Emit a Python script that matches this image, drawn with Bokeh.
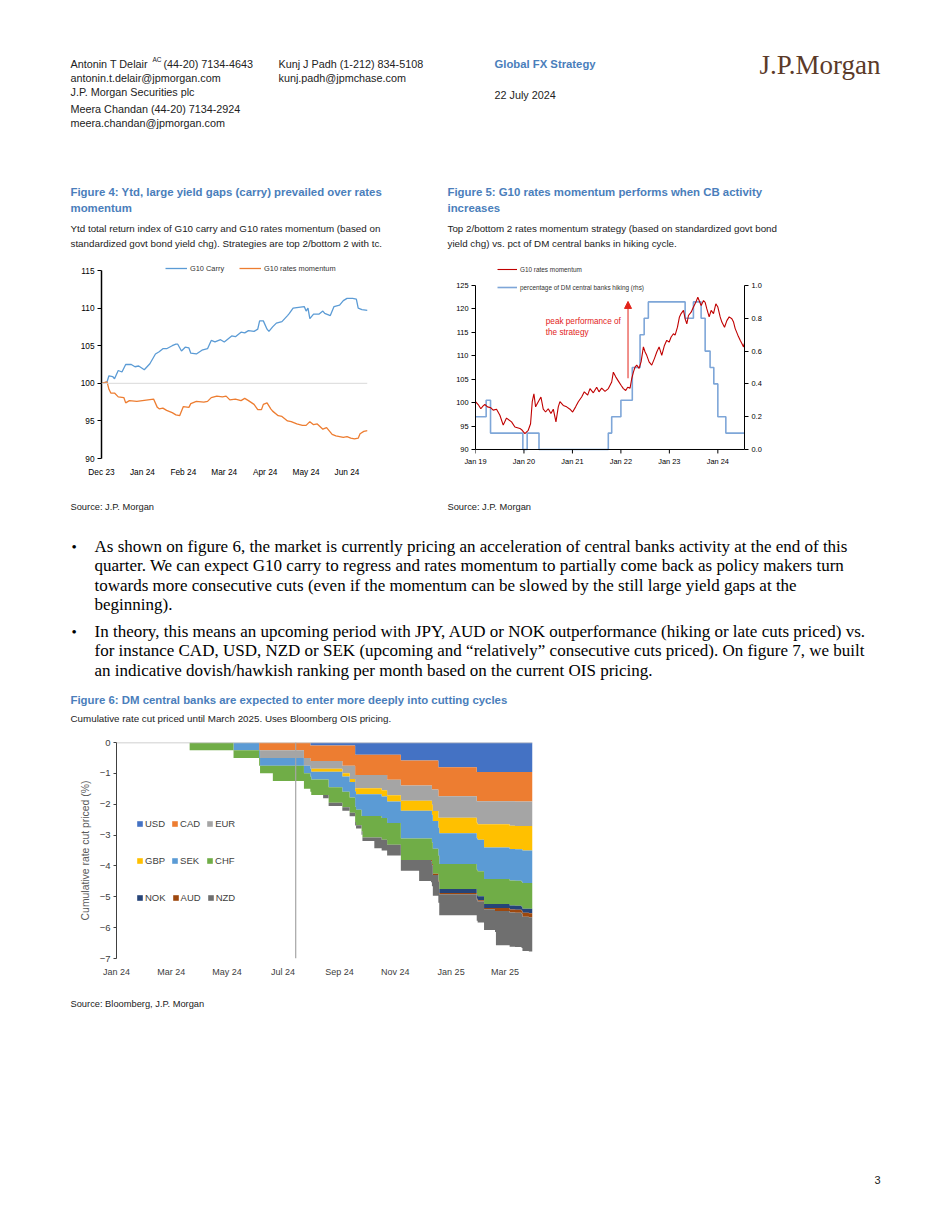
import numpy as np
import pandas as pd
from bokeh.plotting import figure
from bokeh.models import (Label, Range1d, Span, Legend, LegendItem, FixedTicker, Arrow, NormalHead,
                          LinearAxis, NumeralTickFormatter, DatetimeTickFormatter, Spacer)
from bokeh.layouts import column, row
from bokeh.embed import file_html
from bokeh.resources import INLINE

SANS = "Liberation Sans"
SERIF = "Liberation Serif"
TITLE_BLUE = "#4A7EBB"
TXT = "#222222"

# ---------------- Figure 4 data (trading-day index since 29 Dec 2023) ----------------
f4_xticks = [0, 22, 44, 66, 88, 110, 132]
f4_xlabels = ["Dec 23", "Jan 24", "Feb 24", "Mar 24", "Apr 24", "May 24", "Jun 24"]
f4_yticks = [90, 95, 100, 105, 110, 115]
carry_idx = [0, 3, 4, 6, 7, 9, 11, 13, 16, 18, 20, 23, 26, 29, 31, 33, 35, 38, 40, 41, 43, 45, 47, 48, 51, 54,
             57, 59, 61, 64, 66, 68, 70, 72, 75, 77, 79, 82, 84, 85, 87, 89, 90, 92, 94, 97, 100, 101, 103,
             106, 109, 110, 111, 112, 114, 117, 119, 120, 123, 125, 128, 130, 132, 135, 137, 138, 140, 143]
carry_val = [100.0, 100.2, 101.0, 100.9, 100.6, 101.7, 101.5, 102.5, 102.5, 102.2, 102.3, 101.8, 102.6, 103.9,
             104.2, 104.6, 104.6, 105.0, 105.2, 105.2, 104.3, 104.8, 104.7, 104.0, 103.9, 104.4, 104.6, 105.7,
             105.5, 105.8, 105.5, 105.9, 106.3, 106.2, 106.8, 106.7, 107.0, 106.9, 107.2, 108.3, 108.3, 107.2,
             106.9, 107.5, 108.0, 108.2, 109.0, 109.3, 110.0, 110.1, 110.2, 109.6, 110.0, 108.6, 109.2, 109.2,
             109.6, 109.3, 109.0, 110.2, 110.4, 111.0, 111.3, 111.3, 111.2, 110.0, 109.8, 109.7]
mom_idx = [0, 3, 4, 5, 7, 9, 12, 13, 15, 19, 22, 25, 28, 30, 31, 33, 35, 38, 40, 42, 44, 47, 48, 51, 55, 57, 59,
           62, 65, 67, 69, 72, 75, 77, 79, 82, 84, 86, 87, 89, 91, 92, 95, 97, 100, 102, 105, 108, 110, 112,
           114, 116, 119, 121, 124, 126, 128, 130, 132, 134, 136, 138, 139, 141, 143]
mom_val = [100.0, 100.2, 99.2, 98.7, 98.7, 98.2, 98.1, 97.4, 97.7, 97.6, 97.7, 97.8, 97.9, 96.8, 96.6, 96.7,
           96.4, 96.1, 95.8, 95.7, 96.9, 96.8, 97.3, 97.6, 97.5, 97.6, 98.1, 98.3, 98.2, 98.3, 97.8, 97.9,
           97.7, 98.0, 97.7, 97.2, 96.5, 96.5, 97.2, 97.4, 96.6, 96.3, 95.7, 95.6, 95.0, 94.9, 94.6, 94.4,
           94.4, 94.9, 94.5, 94.6, 93.9, 94.1, 93.2, 93.0, 92.9, 92.8, 92.9, 92.7, 92.6, 92.7, 93.3, 93.6, 93.7]

# ---------------- Figure 5 data (decimal years) ----------------
f5_xticks = [2019, 2020, 2021, 2022, 2023, 2024]
f5_xlabels = ["Jan 19", "Jan 20", "Jan 21", "Jan 22", "Jan 23", "Jan 24"]
f5_yticks = [90, 95, 100, 105, 110, 115, 120, 125]
f5_rticks = [0.0, 0.2, 0.4, 0.6, 0.8, 1.0]
rm_t = [2019.000, 2019.055, 2019.110, 2019.158, 2019.193, 2019.248, 2019.317, 2019.365, 2019.434, 2019.503,
        2019.572, 2019.640, 2019.744, 2019.813, 2019.916, 2019.964, 2020.019, 2020.088, 2020.136, 2020.171,
        2020.205, 2020.240, 2020.295, 2020.350, 2020.398, 2020.446, 2020.501, 2020.556, 2020.605, 2020.660,
        2020.708, 2020.742, 2020.811, 2020.880, 2020.949, 2021.004, 2021.066, 2021.121, 2021.190, 2021.245,
        2021.314, 2021.362, 2021.431, 2021.500, 2021.548, 2021.603, 2021.672, 2021.741, 2021.810, 2021.844,
        2021.893, 2021.948, 2022.003, 2022.051, 2022.099, 2022.140, 2022.189, 2022.223, 2022.258, 2022.292,
        2022.326, 2022.375, 2022.416, 2022.464, 2022.499, 2022.533, 2022.581, 2022.636, 2022.691, 2022.740,
        2022.788, 2022.843, 2022.898, 2022.946, 2022.994, 2023.036, 2023.084, 2023.118, 2023.167, 2023.208,
        2023.242, 2023.291, 2023.325, 2023.360, 2023.394, 2023.449, 2023.497, 2023.545, 2023.587, 2023.614,
        2023.656, 2023.704, 2023.738, 2023.773, 2023.821, 2023.862, 2023.910, 2023.959, 2024.000, 2024.048,
        2024.083, 2024.138, 2024.186, 2024.234, 2024.289, 2024.324, 2024.358, 2024.413, 2024.461, 2024.496,
        2024.530, 2024.544]
rm_v = [100.2, 99.6, 98.7, 99.3, 99.6, 99.1, 98.9, 98.4, 98.6, 97.3, 95.2, 96.7, 95.9, 94.8, 94.5, 94.1, 93.4,
        94.1, 95.5, 100.2, 101.9, 99.1, 100.2, 101.2, 98.6, 98.0, 98.7, 97.7, 98.6, 95.9, 99.1, 100.2, 99.4,
        99.1, 98.6, 98.0, 99.1, 100.2, 101.2, 102.3, 101.6, 103.0, 102.1, 103.3, 102.3, 103.1, 102.4, 103.0,
        104.4, 106.5, 105.5, 104.6, 103.7, 103.0, 102.6, 103.3, 103.1, 105.1, 106.5, 107.6, 108.0, 107.3,
        108.7, 111.9, 110.8, 110.1, 108.7, 108.0, 109.4, 110.8, 111.9, 110.1, 112.2, 113.3, 112.9, 114.0,
        114.7, 114.4, 116.1, 118.3, 119.0, 119.7, 117.9, 116.8, 118.6, 119.3, 120.4, 121.4, 122.5, 121.8,
        120.7, 121.8, 121.4, 120.0, 118.3, 119.7, 119.0, 121.1, 120.4, 118.3, 117.2, 116.1, 117.5, 118.3,
        117.9, 117.2, 115.8, 114.4, 113.3, 112.6, 111.9, 112.6]
hike_t = [2019.00, 2019.22, 2019.31, 2019.977, 2020.066, 2020.31, 2021.74, 2021.81, 2022.00, 2022.235,
          2022.395, 2022.48, 2022.566, 2023.325, 2023.496, 2023.655, 2023.738, 2023.84, 2023.917, 2024.00,
          2024.165, 2024.55]
hike_v = [0.2, 0.3, 0.1, 0.0, 0.1, 0.0, 0.1, 0.2, 0.3, 0.5, 0.7, 0.8, 0.9, 0.8, 0.9, 0.8, 0.6, 0.5, 0.4, 0.2,
          0.1, 0.1]

# ---------------- Figure 6 data (cumulative cuts priced, %) ----------------
f6_start, f6_end, f6_today = "2024-01-01", "2025-03-31", "2024-07-15"
f6_xticks = ["2024-01-01", "2024-03-01", "2024-05-01", "2024-07-01", "2024-09-01", "2024-11-01",
             "2025-01-01", "2025-03-01"]
f6_yticks = [-7, -6, -5, -4, -3, -2, -1, 0]
ccy_names = ["USD", "CAD", "EUR", "GBP", "SEK", "CHF", "NOK", "AUD", "NZD"]
ccy_colors = ["#4472C4", "#ED7D31", "#A5A5A5", "#FFC000", "#5B9BD5", "#70AD47", "#264478", "#9E480E", "#6F6F6F"]
usd_dates = ["2024-07-31", "2024-09-18", "2024-11-07", "2024-12-18", "2025-01-29"]
usd_cuts = [0.10, 0.40, 0.58, 0.80, 0.96]
cad_dates = ["2024-06-05", "2024-07-24", "2024-09-04", "2024-10-23", "2024-12-11", "2025-03-12"]
cad_cuts = [0.25, 0.50, 0.65, 0.81, 0.94, 0.95]
eur_dates = ["2024-06-06", "2024-09-12", "2024-10-17", "2024-12-12", "2025-01-30", "2025-03-06"]
eur_cuts = [0.25, 0.43, 0.50, 0.70, 0.75, 0.80]
gbp_dates = ["2024-08-01", "2024-09-19", "2024-11-07", "2024-12-19", "2025-02-06", "2025-03-20"]
gbp_cuts = [0.10, 0.20, 0.32, 0.50, 0.75, 0.79]
sek_dates = ["2024-05-08", "2024-08-20", "2024-09-25", "2024-11-07", "2024-12-19", "2025-01-29", "2025-03-19"]
sek_cuts = [0.25, 0.50, 0.70, 0.90, 1.00, 1.02, 1.05]
chf_dates = ["2024-03-21", "2024-06-20", "2024-09-26", "2024-12-12", "2025-03-20"]
chf_cuts = [0.25, 0.50, 0.70, 0.81, 0.84]
nok_dates = ["2024-12-19", "2025-03-27"]
nok_cuts = [0.13, 0.14]
aud_dates = ["2024-12-10", "2025-02-18", "2025-03-20"]
aud_cuts = [0.04, 0.10, 0.13]
nzd_dates = ["2024-08-14", "2024-10-09", "2024-11-27", "2025-02-19"]
nzd_cuts = [0.11, 0.35, 0.68, 1.11]


def ms(d):
    return pd.Timestamp(d).value / 1e6


# ---------------- helpers ----------------
def text_fig(w, h, top):
    p = figure(width=w, height=h, x_range=Range1d(0, w), y_range=Range1d(top + h, top),
               x_axis_type=None, y_axis_type=None, output_backend="svg", toolbar_location=None,
               min_border=0, outline_line_color=None)
    return p


def put(p, x, y, text, size=11, color=TXT, font=SANS, bold=False, align="left"):
    p.add_layout(Label(x=x, y=y, text=text, text_font=font, text_font_size=f"{size}px",
                       text_color=color, text_font_style="bold" if bold else "normal",
                       text_align=align, text_baseline="middle"))


def style_axis(ax, size="8.5px", font=SANS, color="#000000"):
    ax.major_label_text_font = font
    ax.major_label_text_font_size = size
    ax.major_label_text_color = color
    ax.minor_tick_line_color = None
    ax.major_tick_in = 0


# ---------------- header ----------------
HS = 10.8
hdr = text_fig(950, 260, 0)
put(hdr, 70, 63, "Antonin T Delair", HS)
put(hdr, 152, 59, "AC", 6.5)
put(hdr, 163, 63, "(44-20) 7134-4643", HS)
put(hdr, 70, 77, "antonin.t.delair@jpmorgan.com", HS)
put(hdr, 70, 91, "J.P. Morgan Securities plc", HS)
put(hdr, 70, 108, "Meera Chandan  (44-20) 7134-2924", HS)
put(hdr, 70, 122, "meera.chandan@jpmorgan.com", HS)
put(hdr, 278, 63, "Kunj J Padh  (1-212) 834-5108", HS)
put(hdr, 278, 77, "kunj.padh@jpmchase.com", HS)
put(hdr, 494, 63, "Global FX Strategy", 11.3, TITLE_BLUE, bold=True)
put(hdr, 494, 94, "22 July 2024", HS)
put(hdr, 880, 64, "J.P.Morgan", 27, "#5B3A29", font=SERIF, align="right")
TS = 11.4
SS = 9.8
put(hdr, 70, 191, "Figure 4: Ytd, large yield gaps (carry) prevailed over rates", TS, TITLE_BLUE, bold=True)
put(hdr, 70, 207, "momentum", TS, TITLE_BLUE, bold=True)
put(hdr, 70, 228, "Ytd total return index of G10 carry and G10 rates momentum (based on", SS)
put(hdr, 70, 243, "standardized govt bond yield chg). Strategies are top 2/bottom 2 with tc.", SS)
put(hdr, 447, 191, "Figure 5: G10 rates momentum performs when CB activity", TS, TITLE_BLUE, bold=True)
put(hdr, 447, 207, "increases", TS, TITLE_BLUE, bold=True)
put(hdr, 447, 228, "Top 2/bottom 2 rates momentum strategy (based on standardized govt bond", SS)
put(hdr, 447, 243, "yield chg) vs. pct of DM central banks in hiking cycle.", SS)

# ---------------- Figure 4 ----------------
# frame spans page y 260..458 (shared with figure 5); value 115 sits at 270, 90 at 458
f4 = figure(width=440, height=230, x_range=Range1d(0, 143), y_range=Range1d(90, 116.33),
            output_backend="svg", toolbar_location=None, min_border_left=101, min_border_right=73,
            min_border_top=0, min_border_bottom=32, outline_line_color=None)
f4.grid.visible = False
f4.add_layout(Span(location=100, dimension="width", line_color="#D9D9D9", line_width=1))
r_carry = f4.line(carry_idx, carry_val, line_color="#5B9BD5", line_width=1.3)
r_mom = f4.line(mom_idx, mom_val, line_color="#ED7D31", line_width=1.3)
ya = f4.yaxis[0]
style_axis(ya, size="8.3px")
ya.ticker = FixedTicker(ticks=f4_yticks)
ya.bounds = (90, 115)
ya.axis_line_color = "#000000"
ya.axis_line_width = 1.5
ya.major_tick_out = 4
ya.major_label_standoff = 3
xa = f4.xaxis[0]
style_axis(xa, size="8.3px")
xa.ticker = FixedTicker(ticks=f4_xticks)
xa.major_label_overrides = {t: l for t, l in zip(f4_xticks, f4_xlabels)}
xa.axis_line_color = None
xa.major_tick_line_color = None
xa.major_tick_out = 0
xa.major_label_standoff = 8
leg4 = Legend(items=[LegendItem(label="G10 Carry", renderers=[r_carry]),
                     LegendItem(label="G10 rates momentum", renderers=[r_mom])],
              orientation="horizontal", location=(64, 185), glyph_width=22, glyph_height=10,
              label_height=10, label_standoff=3, spacing=15, padding=0, margin=0,
              border_line_color=None, background_fill_alpha=0,
              label_text_font=SANS, label_text_font_size="7.4px", label_text_color="#333333")
f4.add_layout(leg4)

# ---------------- Figure 5 ----------------
# frame spans page y 260..458; value 125 sits at 285, 90 at 449
f5 = figure(width=510, height=230, x_range=Range1d(2019.0, 2024.55), y_range=Range1d(88.079, 130.335),
            output_backend="svg", toolbar_location=None, min_border_left=35, min_border_right=206,
            min_border_top=0, min_border_bottom=32, outline_line_color=None)
f5.grid.visible = False
f5.extra_y_ranges = {"rhs": Range1d(-0.0549, 1.1524)}
r_hike = f5.step(hike_t, hike_v, mode="after", y_range_name="rhs", line_color="#7EA6D8", line_width=1.6)
r_rm = f5.line(rm_t, rm_v, line_color="#C00000", line_width=1.1)
f5.add_layout(Span(location=90, dimension="width", line_color="#000000", line_width=1))
f5.segment(x0=f5_xticks, y0=[90] * len(f5_xticks), x1=f5_xticks, y1=[89.15] * len(f5_xticks),
           line_color="#000000", line_width=1)
ra = LinearAxis(y_range_name="rhs")
f5.add_layout(ra, "right")
for ax, b in ((f5.yaxis[0], (90, 125)), (ra, (0, 1))):
    style_axis(ax, size="7.4px")
    ax.bounds = b
    ax.axis_line_color = "#000000"
    ax.major_tick_out = 4
    ax.major_label_standoff = 3
f5.yaxis[0].ticker = FixedTicker(ticks=f5_yticks)
ra.ticker = FixedTicker(ticks=f5_rticks)
ra.formatter = NumeralTickFormatter(format="0.0")
xa5 = f5.xaxis[0]
style_axis(xa5, size="7.4px")
xa5.ticker = FixedTicker(ticks=f5_xticks)
xa5.major_label_overrides = {t: l for t, l in zip(f5_xticks, f5_xlabels)}
xa5.axis_line_color = None
xa5.major_tick_line_color = None
xa5.major_tick_out = 0
xa5.major_label_standoff = -2
RED = "#E2231A"
f5.add_layout(Arrow(end=NormalHead(size=7, fill_color=RED, line_color=RED),
                    x_start=2022.147, y_start=105.2, x_end=2022.147, y_end=121.6,
                    line_color=RED, line_width=1))
f5.add_layout(Label(x=2020.45, y=117.4, text="peak performance of", text_font=SANS,
                    text_font_size="8.2px", text_color=RED, text_baseline="middle"))
f5.add_layout(Label(x=2020.45, y=114.9, text="the strategy", text_font=SANS,
                    text_font_size="8.2px", text_color=RED, text_baseline="middle"))
leg5 = Legend(items=[LegendItem(label="G10 rates momentum", renderers=[r_rm]),
                     LegendItem(label="percentage of DM central banks hiking (rhs)", renderers=[r_hike])],
              orientation="vertical", location=(22, 166), glyph_width=20, glyph_height=10,
              label_height=10, label_standoff=3, spacing=8, padding=0, margin=0,
              border_line_color=None, background_fill_alpha=0,
              label_text_font=SANS, label_text_font_size="6.4px", label_text_color="#333333")
f5.add_layout(leg5)

# ---------------- middle text ----------------
mid = text_fig(950, 245, 490)
put(mid, 70, 506, "Source: J.P. Morgan", 9.3)
put(mid, 447, 506, "Source: J.P. Morgan", 9.3)
body = [
    (546, True, "As shown on figure 6, the market is currently pricing an acceleration of central banks activity at the end of this"),
    (565, False, "quarter. We can expect G10 carry to regress and rates momentum to partially come back as policy makers turn"),
    (585, False, "towards more consecutive cuts (even if the momentum can be slowed by the still large yield gaps at the"),
    (604, False, "beginning)."),
    (631, True, "In theory, this means an upcoming period with JPY, AUD or NOK outperformance (hiking or late cuts priced) vs."),
    (650, False, "for instance CAD, USD, NZD or SEK (upcoming and \u201crelatively\u201d consecutive cuts priced). On figure 7, we built"),
    (670, False, "an indicative dovish/hawkish ranking per month based on the current OIS pricing."),
]
for y, bullet, line in body:
    if bullet:
        put(mid, 71, y, "\u2022", 15, "#000000", font=SERIF)
    put(mid, 94, y, line, 17, "#000000", font=SERIF)
put(mid, 70, 699, "Figure 6: DM central banks are expected to enter more deeply into cutting cycles", TS,
    TITLE_BLUE, bold=True)
put(mid, 70, 718, "Cumulative rate cut priced until March 2025. Uses Bloomberg OIS pricing.", SS)

# ---------------- Figure 6 ----------------
f6 = figure(width=560, height=255, x_axis_type="datetime", x_range=Range1d(ms(f6_start), ms(f6_end)),
            y_range=Range1d(-7, 0), output_backend="svg", toolbar_location=None,
            min_border_left=116, min_border_right=28, min_border_top=7, min_border_bottom=32,
            outline_line_color=None)
f6.grid.visible = False
all_dates = [usd_dates, cad_dates, eur_dates, gbp_dates, sek_dates, chf_dates, nok_dates, aud_dates, nzd_dates]
all_cuts = [usd_cuts, cad_cuts, eur_cuts, gbp_cuts, sek_cuts, chf_cuts, nok_cuts, aud_cuts, nzd_cuts]
grid = sorted(set([f6_start, f6_end] + [d for ds in all_dates for d in ds]))
grid_ms = np.array([ms(d) for d in grid])
level = np.zeros(len(grid))
renderers = []
for name, col, ds, cs in zip(ccy_names, ccy_colors, all_dates, all_cuts):
    dm = np.array([ms(d) for d in ds])
    idx = np.searchsorted(dm, grid_ms, side="right") - 1
    val = np.where(idx >= 0, np.array(cs)[np.clip(idx, 0, None)], 0.0)
    top = -level.copy()
    level = level + val
    r = f6.varea_step(x=grid_ms, y1=top, y2=-level, step_mode="after", fill_color=col)
    renderers.append(r)
f6.add_layout(Span(location=0, dimension="width", line_color="#BFBFBF", line_width=1.5))
f6.add_layout(Span(location=ms(f6_today), dimension="height", line_color="#A6A6A6", line_width=1.2))
ya6 = f6.yaxis[0]
style_axis(ya6, size="9.5px", color="#404040")
ya6.ticker = FixedTicker(ticks=f6_yticks)
ya6.axis_line_color = "#404040"
ya6.major_tick_line_color = "#404040"
ya6.major_tick_out = 3
ya6.major_label_standoff = 3
ya6.axis_label = "Cumulative rate cut priced (%)"
ya6.axis_label_text_font = SANS
ya6.axis_label_text_font_size = "10.4px"
ya6.axis_label_text_font_style = "normal"
ya6.axis_label_text_color = "#595959"
ya6.axis_label_standoff = 6
xa6 = f6.xaxis[0]
style_axis(xa6, size="9px", color="#404040")
xa6.ticker = FixedTicker(ticks=[ms(d) for d in f6_xticks])
xa6.formatter = DatetimeTickFormatter(days="%b %y", months="%b %y", years="%b %y")
xa6.axis_line_color = None
xa6.major_tick_line_color = None
xa6.major_tick_out = 0
xa6.major_label_standoff = 8
for k, ybot in enumerate([129, 92, 55]):
    items = [LegendItem(label=ccy_names[3 * k + j], renderers=[renderers[3 * k + j]]) for j in range(3)]
    f6.add_layout(Legend(items=items, orientation="horizontal", location=(20, ybot), glyph_width=7,
                         glyph_height=7, label_height=10, label_standoff=2, spacing=6, padding=0,
                         margin=0, border_line_color=None, background_fill_alpha=0,
                         label_text_font=SANS, label_text_font_size="9.5px",
                         label_text_color="#404040"))

# ---------------- bottom text ----------------
bot = text_fig(950, 240, 990)
put(bot, 70, 1003, "Source: Bloomberg, J.P. Morgan", 9.3)
put(bot, 880, 1179, "3", 11, align="right")

page = column(hdr, row(f4, f5), mid, row(f6, Spacer(width=390, height=255)), bot)
open("out.html", "w").write(file_html(page, INLINE))
